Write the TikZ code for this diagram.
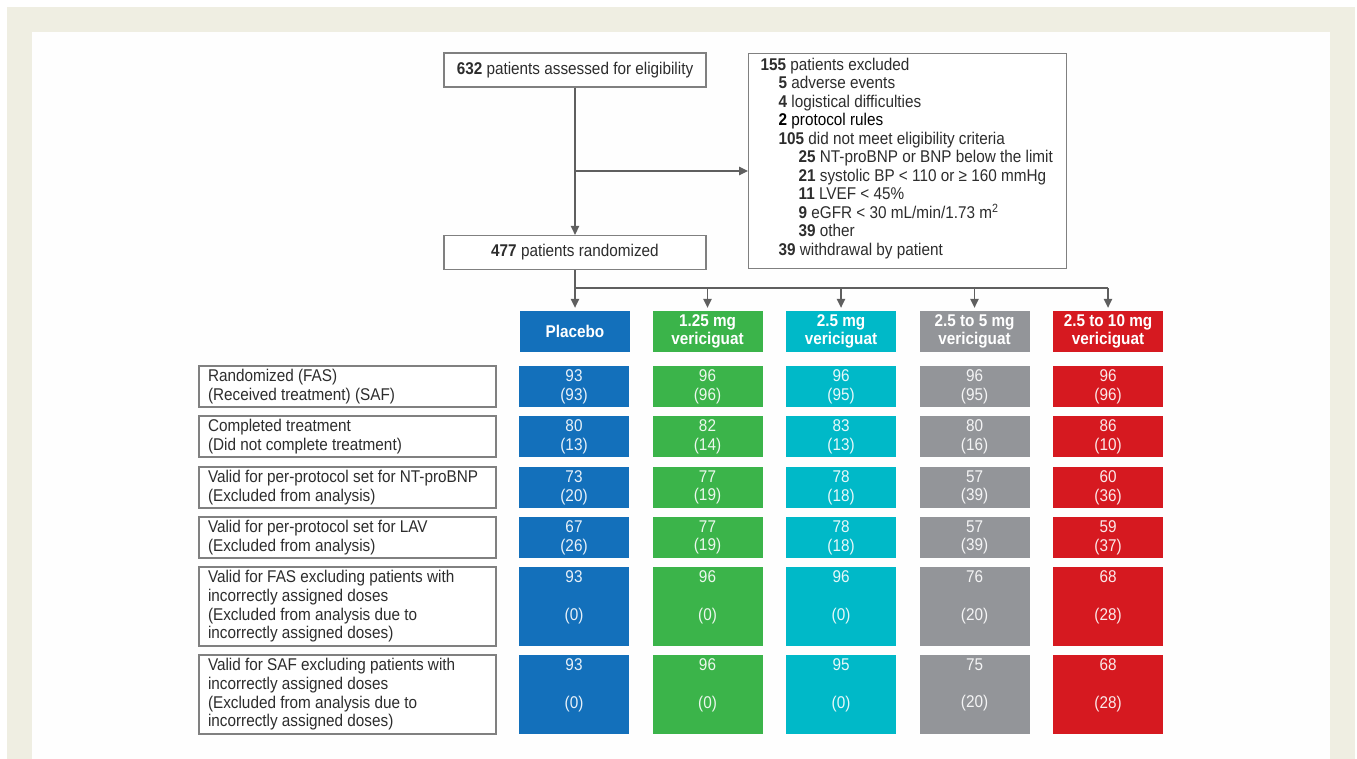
\documentclass[tikz,border=0pt]{standalone}
\usepackage{fontspec}
\setmainfont{Liberation Sans}[FakeStretch=0.9]
\usetikzlibrary{arrows.meta}
\definecolor{beige}{RGB}{239,238,226}
\definecolor{cblue}{RGB}{19,112,187}
\definecolor{cgreen}{RGB}{59,180,74}
\definecolor{ccyan}{RGB}{0,185,200}
\definecolor{cgray}{RGB}{147,149,153}
\definecolor{cred}{RGB}{214,25,32}
\definecolor{txt}{RGB}{45,45,45}
\definecolor{bord}{RGB}{128,128,128}
\definecolor{conn}{RGB}{95,95,95}
\newcommand{\fixspace}{\spaceskip=\fontdimen2\font\relax}
\begin{document}
\begin{tikzpicture}[x=1pt,y=-1pt,
  basefont/.style={font=\fontsize{17}{18.7}\selectfont\fixspace},
  flowbox/.style={draw=bord, line width=1.3pt, fill=white, text=txt, basefont,
    inner sep=0pt, minimum width=262pt, minimum height=34pt},
  exclbox/.style={draw=bord, line width=1.3pt, fill=white, text=txt,
    font=\fontsize{17}{18.5}\selectfont\fixspace, align=flush left, text width=306pt,
    inner xsep=6pt, inner ysep=0pt, minimum height=215pt, anchor=north west},
  rowlabel/.style={draw=bord, line width=1.3pt, fill=white, text=txt, basefont,
    align=flush left, text width=279pt, inner xsep=9pt, inner ysep=0pt},
  cell/.style={fill=#1, text=white, text opacity=.9, basefont, align=flush center,
    text width=110pt, inner sep=0pt},
  hdr/.style={cell=#1, text opacity=1, font=\fontsize{17}{18.5}\selectfont\bfseries\fixspace,
    minimum height=41pt},
  conline/.style={draw=conn, line width=1.2pt},
  conarrow/.style={conline, -{Triangle[length=9pt,width=8.5pt]}}
]
\useasboundingbox (0,0) rectangle (1357,759);
\fill[white] (0,0) rectangle (1357,759);
\fill[beige] (7,7) rectangle (1355,759);
\fill[white!99.5!black] (32,32) rectangle (1330,759);

% flow boxes
\node[flowbox] (top) at (575,70) {\textbf{632} patients assessed for eligibility};
\node[flowbox] (rand) at (575,252.5) {\textbf{477} patients randomized};
\node[exclbox] (excl) at (748,53) {%
\hspace*{6pt}\textbf{155} patients excluded\\
\hspace*{24pt}\textbf{5} adverse events\\
\hspace*{24pt}\textbf{4} logistical difficulties\\
\hspace*{24pt}\textcolor{black}{\textbf{2} protocol rules}\\
\hspace*{24pt}\textbf{105} did not meet eligibility criteria\\
\hspace*{44pt}\textbf{25} NT-proBNP or BNP below the limit\\
\hspace*{44pt}\textbf{21} systolic BP < 110 or ≥ 160 mmHg\\
\hspace*{44pt}\textbf{11} LVEF < 45\%\\
\hspace*{44pt}\textbf{9} eGFR < 30 mL/min/1.73 m\textsuperscript{2}\\
\hspace*{44pt}\textbf{39} other\\
\hspace*{24pt}\textbf{39} withdrawal by patient\rule[-9pt]{0pt}{1pt}};

% headers
\node[hdr=cblue] (h1) at (575,331.5) {Placebo};
\node[hdr=cgreen] (h2) at (707.5,331.5) {1.25 mg\\vericiguat};
\node[hdr=ccyan] (h3) at (841,331.5) {2.5 mg\\vericiguat};
\node[hdr=cgray] (h4) at (974.5,331.5) {2.5 to 5 mg\\vericiguat};
\node[hdr=cred] (h5) at (1108,331.5) {2.5 to 10 mg\\vericiguat};

% connectors
\coordinate (br) at (575,171);
\coordinate (hb) at (575,288);
\draw[conarrow] (top.south) -- (rand.north);
\draw[conarrow] (br) -- (br -| excl.west);
\draw[conline] (hb) -- (hb -| h5.north);
\draw[conarrow, shorten >=3pt] (rand.south) -- (h1.north);
\foreach \hn in {h2,h3,h4,h5}{
  \draw[conarrow, shorten >=3pt] (hb -| \hn.north) -- (\hn.north);
}

% row labels
\node[rowlabel, minimum height=41pt] (l1) at (347.5,386.5) {Randomized (FAS)\\(Received treatment) (SAF)};
\node[rowlabel, minimum height=41pt] (l2) at (347.5,436.5) {Completed treatment\\(Did not complete treatment)};
\node[rowlabel, minimum height=41pt] (l3) at (347.5,487.5) {Valid for per-protocol set for NT-proBNP\\(Excluded from analysis)};
\node[rowlabel, minimum height=41pt] (l4) at (347.5,537.5) {Valid for per-protocol set for LAV\\(Excluded from analysis)};
\node[rowlabel, minimum height=79pt] (l5) at (347.5,606.5) {Valid for FAS excluding patients with\\incorrectly assigned doses\\(Excluded from analysis due to\\incorrectly assigned doses)};
\node[rowlabel, minimum height=79pt] (l6) at (347.5,694.5) {Valid for SAF excluding patients with\\incorrectly assigned doses\\(Excluded from analysis due to\\incorrectly assigned doses)};

% cells
\foreach \vc/\vx/\vcol/\vA/\vB/\vC/\vD/\vE/\vF/\vG/\vH/\vI/\vJ/\vK/\vL in {
  1/574/cblue/93/(93)/80/(13)/73/(20)/67/(26)/93/(0)/93/(0),
  2/707.5/cgreen/96/(96)/82/(14)/77/(19)/77/(19)/96/(0)/96/(0),
  3/841/ccyan/96/(95)/83/(13)/78/(18)/78/(18)/96/(0)/95/(0),
  4/974.5/cgray/96/(95)/80/(16)/57/(39)/57/(39)/76/(20)/75/(20),
  5/1108/cred/96/(96)/86/(10)/60/(36)/59/(37)/68/(28)/68/(28)}{
  \node[cell=\vcol, minimum height=41pt] (ra\vc) at (\vx,386.5) {\vA\\\vB};
  \node[cell=\vcol, minimum height=41pt] (rb\vc) at (\vx,436.5) {\vC\\\vD};
  \node[cell=\vcol, minimum height=41pt] (rc\vc) at (\vx,487.5) {\vE\\\vF};
  \node[cell=\vcol, minimum height=41pt] (rd\vc) at (\vx,537.5) {\vG\\\vH};
  \node[cell=\vcol, minimum height=79pt] (re\vc) at (\vx,606.5) {\vI\\\mbox{}\\\vJ\\\vphantom{(}};
  \node[cell=\vcol, minimum height=79pt] (rf\vc) at (\vx,694.5) {\vK\\\mbox{}\\\vL\\\vphantom{(}};
}
\end{tikzpicture}
\end{document}
